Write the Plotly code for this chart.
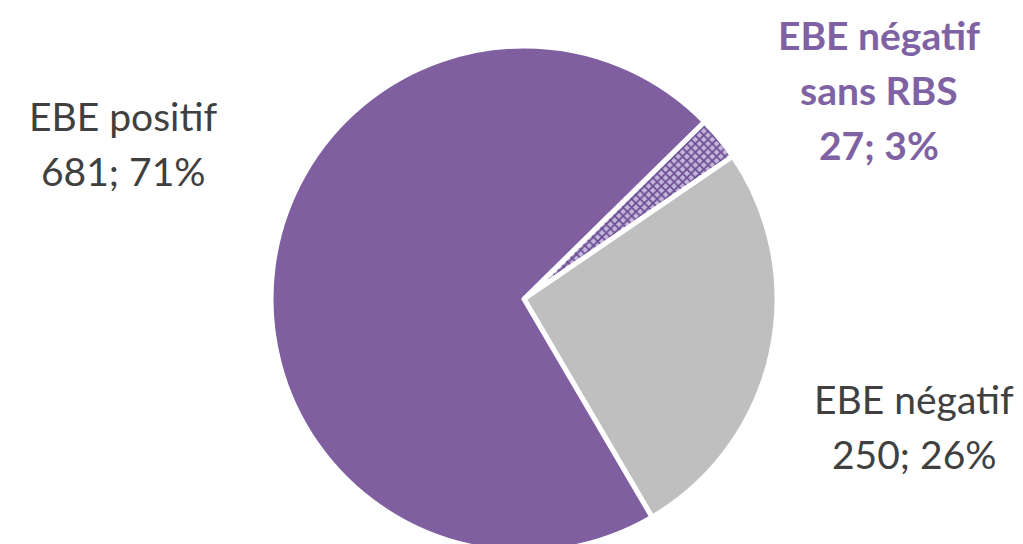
import plotly.graph_objects as go

# ---- data ----
categories = ["EBE négatif sans RBS", "EBE négatif", "EBE positif"]
label_lines = [["EBE négatif", "sans RBS"], ["EBE négatif"], ["EBE positif"]]
values = [27, 250, 681]

total = sum(values)
percents = [round(v / total * 100) for v in values]

# ---- styles ----
slice_colors = ["#8064A2", "#BFBFBF", "#7F5FA0"]
text_colors = ["#7F62A3", "#404040", "#404040"]
text_bold = [True, False, False]
pulls = [0, 0, 0]
# label layout: (center x px, first-line center y px)
label_pos = [(871, 27), (906, 391), (115, 108)]
line_gap = 55

W, H = 1023, 544

fig = go.Figure()
fig.add_trace(go.Pie(
    labels=categories,
    values=values,
    sort=False,
    direction="clockwise",
    rotation=45.5,
    pull=pulls,
    textinfo="none",
    hoverinfo="label+value+percent",
    showlegend=False,
    marker=dict(
        colors=slice_colors,
        line=dict(color="white", width=5),
        pattern=dict(
            shape=["x", "", ""],
            fgcolor=["#6A4D92", "#BFBFBF", "#7F5FA0"],
            bgcolor=["#C4B5DB", "#BFBFBF", "#7F5FA0"],
            size=[6, 8, 8],
            solidity=[0.5, 0.3, 0.3],
            fillmode="replace",
        ),
    ),
    domain=dict(x=[263 / W, 769 / W], y=[0, 506 / H]),
))

annotations = []
for i, cat in enumerate(categories):
    lines = label_lines[i] + [f"{values[i]}; {percents[i]}%"]
    cx, cy = label_pos[i]
    for j, ln in enumerate(lines):
        txt = f"<b>{ln}</b>" if text_bold[i] else ln
        annotations.append(dict(
            x=cx / W, y=1 - (cy + j * line_gap) / H,
            xref="paper", yref="paper",
            text=txt, showarrow=False,
            xanchor="center", yanchor="middle",
            font=dict(family="Lato", size=39, color=text_colors[i]),
        ))

fig.update_layout(
    width=W, height=H,
    margin=dict(l=0, r=0, t=0, b=0),
    paper_bgcolor="white",
    plot_bgcolor="white",
    annotations=annotations,
)

fig.write_html("out.html")
